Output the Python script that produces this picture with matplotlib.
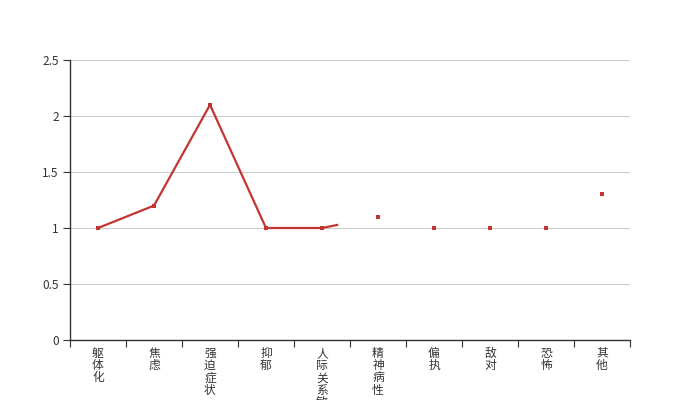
import numpy as np
import matplotlib
matplotlib.use("Agg")
import matplotlib.pyplot as plt

plt.rcParams['font.family'] = ['Noto Sans CJK SC', 'DejaVu Sans']

# data
categories = ['躯体化', '焦虑', '强迫症状', '抑郁', '人际关系敏感',
              '精神病性', '偏执', '敌对', '恐怖', '其他']
scores = [1.0, 1.2, 2.1, 1.0, 1.0, 1.1, 1.0, 1.0, 1.0, 1.3]
# the line is only partly drawn (animation caught mid-way)
line_progress = 4.29

red = '#c23531'
axis_col = '#333333'

fig = plt.figure(figsize=(7, 4), dpi=100)
ax = fig.add_axes([0.1, 0.15, 0.8, 0.7])

x = np.arange(len(categories))

# partial line: full points up to floor(progress) plus a stub
n_full = int(np.floor(line_progress))
frac = line_progress - n_full
lx = list(x[:n_full + 1])
ly = list(scores[:n_full + 1])
if frac > 0 and n_full + 1 < len(scores):
    lx.append(line_progress)
    ly.append(scores[n_full] + frac * (scores[n_full + 1] - scores[n_full]))
ax.plot(lx, ly, color=red, lw=1.6, solid_capstyle='butt', zorder=3)
ax.scatter(x, scores, s=9, color=red, marker='s', zorder=4, linewidths=0)

ax.set_xlim(-0.5, len(categories) - 0.5)
ax.set_ylim(0, 2.5)
ax.set_yticks([0, 0.5, 1, 1.5, 2, 2.5])
ax.set_yticklabels(['0', '0.5', '1', '1.5', '2', '2.5'])
ax.grid(axis='y', color='#cccccc', lw=0.8)
ax.set_axisbelow(True)

# ticks on band boundaries, labels at band centres
ax.set_xticks(np.arange(len(categories) + 1) - 0.5)
ax.set_xticklabels([])
ax.set_xticks(x, minor=True)
ax.set_xticklabels(['\n'.join(c) for c in categories], minor=True,
                   va='top', linespacing=0.92)
ax.tick_params(axis='x', which='minor', length=0, pad=5,
               labelsize=8.5, labelcolor='#333333')
ax.tick_params(axis='x', which='major', length=5, color=axis_col)
ax.tick_params(axis='y', length=5, color=axis_col, labelsize=8.5,
               labelcolor='#333333', pad=3)

for s in ['top', 'right']:
    ax.spines[s].set_visible(False)
for s in ['left', 'bottom']:
    ax.spines[s].set_color(axis_col)
    ax.spines[s].set_linewidth(1)

fig.savefig('out.png', dpi=100)
